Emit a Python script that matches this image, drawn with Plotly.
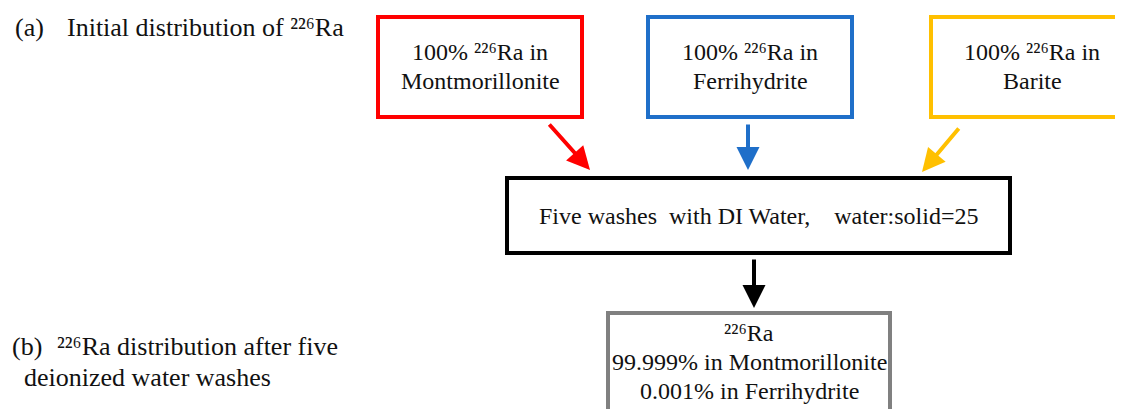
import plotly.graph_objects as go

W, H = 1123, 409
OFF = 8  # default page body margin
FONT = "Liberation Serif, DejaVu Serif, serif"
SUP = "²²⁶"

# Boxes: (x0, y0, x1, y1, color)
box_names = ["Montmorillonite", "Ferrihydrite", "Barite", "Wash", "Result"]
box_x0 = [378, 648, 931, 507, 608]
box_y0 = [17, 17, 17, 178, 313]
box_x1 = [582, 852, 1135, 1010, 890]
box_y1 = [117, 117, 117, 253, 420]
box_color = ["#FF0000", "#1F6FC9", "#FFC000", "#000000", "#808080"]

# Text lines inside boxes
text_x = [480, 480, 750, 750, 1032, 1032, 758, 749, 749, 749]
text_y = [52, 81, 52, 81, 52, 81, 216, 333, 362, 391]
text_s = [f"100% {SUP}Ra in", "Montmorillonite",
          f"100% {SUP}Ra in", "Ferrihydrite",
          f"100% {SUP}Ra in", "Barite",
          "Five washes  with DI Water,    water:solid=25",
          f"{SUP}Ra", "99.999% in Montmorillonite", "0.001% in Ferrihydrite"]

# Arrows: tail (ax, ay) -> tip (x, y)
arr_ax = [548, 748, 960, 754]
arr_ay = [123, 123, 127, 258]
arr_x = [590, 748, 922, 754]
arr_y = [170, 170, 172, 308]
arr_color = ["#FF0000", "#1F6FC9", "#FFC000", "#000000"]

# Side labels
side_x = [13, 65, 10, 55, 22]
side_y = [27, 27, 346, 346, 377]
side_s = ["(a)", f"Initial distribution of {SUP}Ra", "(b)",
          f"{SUP}Ra distribution after five", "deionized water washes"]

fig = go.Figure()
fig.add_trace(go.Scatter(x=[OFF, W], y=[OFF, H], mode="markers",
                         marker=dict(opacity=0), hoverinfo="skip", showlegend=False))

for x0, y0, x1, y1, c in zip(box_x0, box_y0, box_x1, box_y1, box_color):
    fig.add_shape(type="rect", x0=x0, y0=y0, x1=x1, y1=y1, xref="x", yref="y",
                  line=dict(color=c, width=4), fillcolor="rgba(0,0,0,0)")

for x, y, s in zip(text_x, text_y, text_s):
    fig.add_annotation(x=x, y=y, text=s, showarrow=False, xref="x", yref="y",
                       xanchor="center", yanchor="middle",
                       font=dict(family=FONT, size=24, color="#111"))

for x, y, s in zip(side_x, side_y, side_s):
    fig.add_annotation(x=x, y=y, text=s, showarrow=False, xref="x", yref="y",
                       xanchor="left", yanchor="middle",
                       font=dict(family=FONT, size=26, color="#111"))

for ax, ay, x, y, c in zip(arr_ax, arr_ay, arr_x, arr_y, arr_color):
    fig.add_annotation(x=x, y=y, ax=ax, ay=ay, xref="x", yref="y", axref="x", ayref="y",
                       text="", showarrow=True, arrowhead=2, arrowsize=1.15,
                       arrowwidth=4, arrowcolor=c, standoff=0, startstandoff=0)

fig.update_xaxes(range=[OFF, W], visible=False, fixedrange=True)
fig.update_yaxes(range=[H, OFF], visible=False, fixedrange=True)
fig.update_layout(width=W - OFF, height=H - OFF, margin=dict(l=0, r=0, t=0, b=0),
                  plot_bgcolor="white", paper_bgcolor="white", showlegend=False,
                  font=dict(family=FONT))

fig.write_html("out.html")
